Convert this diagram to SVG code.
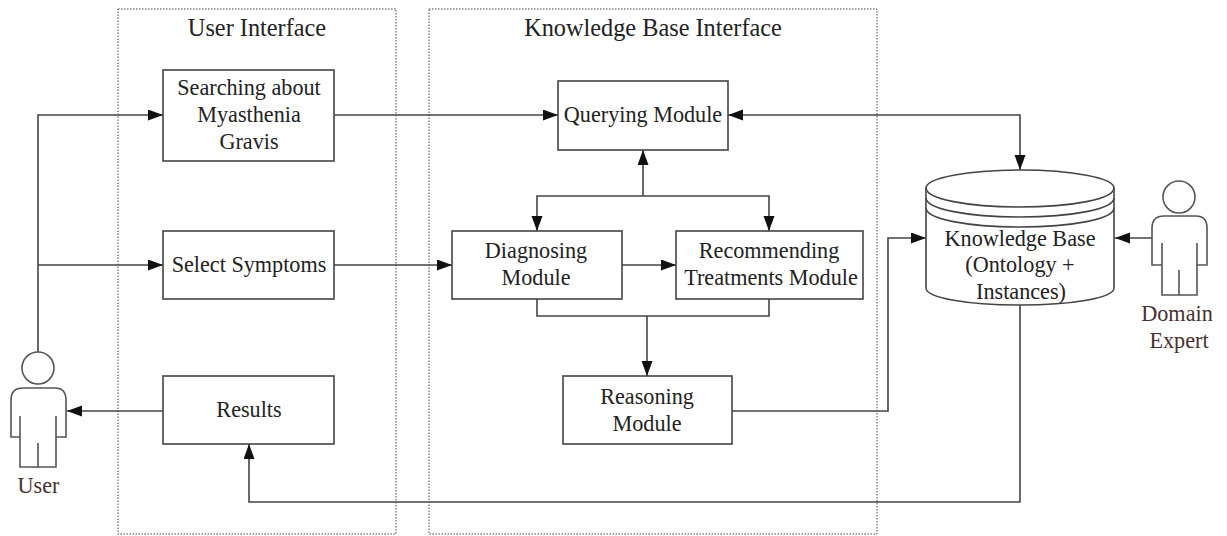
<svg xmlns="http://www.w3.org/2000/svg" width="1227" height="536" viewBox="0 0 1227 536">
<style>
text{font-family:"Liberation Serif","Times New Roman",serif;font-size:22.2px;fill:#222;text-anchor:middle}
.h{font-size:24.3px}
.d{fill:none;stroke:#444;stroke-width:1;stroke-dasharray:1.5 1.5}
.b{fill:#fff;stroke:#444;stroke-width:1.6}
.c{fill:none;stroke:#444;stroke-width:1.6}
.p{fill:#fff;stroke:#555;stroke-width:1.6}
.r{fill:#4a3030}
</style>
<defs>
<marker id="a" markerUnits="userSpaceOnUse" markerWidth="16" markerHeight="12" refX="15" refY="5.5" orient="auto-start-reverse"><path d="M0 0L15 5.5L0 11Z" fill="#111"/></marker>
</defs>
<rect width="1227" height="536" fill="#fff"/>
<g id="user-interface"><rect class="d" x="118" y="9" width="278" height="525"/><text class="h" x="257" y="36">User Interface</text></g>
<g id="kb-interface"><rect class="d" x="429" y="9" width="448" height="525"/><text class="h" x="653" y="36">Knowledge Base Interface</text></g>
<g id="connectors">
<path class="c" marker-end="url(#a)" d="M38 352V115H163"/>
<path class="c" marker-end="url(#a)" d="M38 265H163"/>
<path class="c" marker-end="url(#a)" d="M163 411H67"/>
<path class="c" marker-end="url(#a)" d="M334 115H558"/>
<path class="c" marker-end="url(#a)" d="M334 265H452"/>
<path class="c" marker-start="url(#a)" marker-end="url(#a)" d="M728 115H1020V170"/>
<path class="c" marker-end="url(#a)" d="M643 196V150"/>
<path class="c" marker-end="url(#a)" d="M643 196H769V231"/>
<path class="c" marker-end="url(#a)" d="M643 196H537V231"/>
<path class="c" marker-end="url(#a)" d="M622 265H676"/>
<path class="c" d="M537 299V316H769V299"/>
<path class="c" marker-end="url(#a)" d="M647 316V376"/>
<path class="c" marker-end="url(#a)" d="M732 411H888V238H926"/>
<path class="c" marker-end="url(#a)" d="M1152 238H1115"/>
<path class="c" marker-end="url(#a)" d="M1020 305V502H249V444"/>
</g>
<g id="search"><rect class="b" x="163" y="70" width="171" height="91"/><text x="249" y="95">Searching about</text><text x="249" y="122">Myasthenia</text><text x="249" y="149">Gravis</text></g>
<g id="symptoms"><rect class="b" x="163" y="231" width="171" height="68"/><text x="249" y="272">Select Symptoms</text></g>
<g id="results"><rect class="b" x="163" y="376" width="171" height="68"/><text x="249" y="417">Results</text></g>
<g id="querying"><rect class="b" x="558" y="81" width="170" height="69"/><text x="643" y="122">Querying Module</text></g>
<g id="diagnosing"><rect class="b" x="452" y="231" width="170" height="68"/><text x="536" y="258">Diagnosing</text><text x="536" y="285">Module</text></g>
<g id="recommending"><rect class="b" x="676" y="231" width="187" height="68"/><text x="769" y="258">Recommending</text><text x="771" y="285">Treatments Module</text></g>
<g id="reasoning"><rect class="b" x="563" y="376" width="169" height="68"/><text x="647" y="404">Reasoning</text><text x="647" y="431">Module</text></g>
<g id="knowledge-base">
<path class="b" d="M926 188C926 178 968 170 1020 170S1114 178 1114 188V288C1114 298 1072 305 1020 305S926 298 926 288Z"/>
<path class="c" d="M926 188C926 199 968 207 1020 207S1114 199 1114 188M926 198C926 209 968 217 1020 217S1114 209 1114 198M926 208C926 219 968 227 1020 227S1114 219 1114 208"/>
<text x="1020" y="246">Knowledge Base</text><text x="1020" y="272">(Ontology +</text><text x="1021" y="299">Instances)</text>
</g>
<g id="user">
<circle class="p" cx="38" cy="368" r="16"/>
<path class="p" d="M11 437V400Q11 388 23 388H55Q66 388 66 400V437H56V467H20V437ZM20 437V416M56 437V416M38 467V443"/>
<text class="r" x="38.500" y="493">User</text>
</g>
<g id="expert">
<circle class="p" cx="1179" cy="197" r="16"/>
<path class="p" d="M1152 265V228Q1152 216 1164 216H1196Q1207 216 1207 228V265H1197V295H1162V265ZM1162 265V243M1197 265V243M1179 295V270"/>
<text class="r" x="1177" y="321">Domain</text><text class="r" x="1179" y="348">Expert</text>
</g>
</svg>
